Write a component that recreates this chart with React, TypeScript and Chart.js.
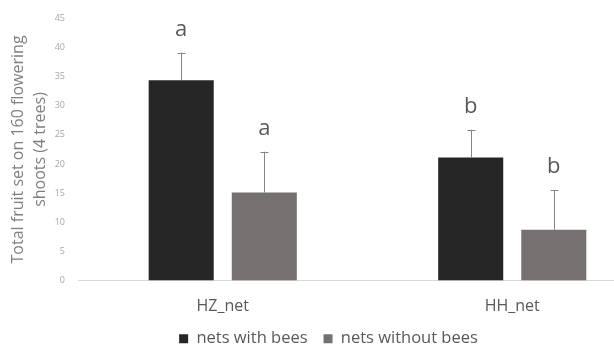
import React, { useEffect, useRef } from "react";
import { Chart, registerables } from "chart.js";

Chart.register(...registerables);

const categories = ["HZ_net", "HH_net"];
const seriesNames = ["nets with bees", "nets without bees"];
const withBees = [34.4, 21.1];
const withBeesErr = [4.7, 4.8];
const withoutBees = [15.1, 8.7];
const withoutBeesErr = [7.0, 6.8];
const withBeesLetters = ["a", "b"];
const withoutBeesLetters = ["a", "b"];
const yTicks = [0, 5, 10, 15, 20, 25, 30, 35, 40, 45];

const FONT = "'Open Sans', 'DejaVu Sans', sans-serif";

// Upper-only error whiskers and significance letters above each bar
const errorBarPlugin = {
  id: "errorBars",
  afterDatasetsDraw(chart: any) {
    const { ctx } = chart;
    const yScale = chart.scales.y;
    const errs = [withBeesErr, withoutBeesErr];
    const letters = [withBeesLetters, withoutBeesLetters];
    ctx.save();
    chart.data.datasets.forEach((ds: any, di: number) => {
      const meta = chart.getDatasetMeta(di);
      meta.data.forEach((bar: any, i: number) => {
        const v = ds.data[i];
        const top = yScale.getPixelForValue(v + errs[di][i]);
        const base = yScale.getPixelForValue(v);
        const x = Math.round(bar.x) + 0.5;
        ctx.strokeStyle = "#858585";
        ctx.lineWidth = 1;
        ctx.beginPath();
        ctx.moveTo(x, base);
        ctx.lineTo(x, top);
        ctx.moveTo(x - 4, Math.round(top) + 0.5);
        ctx.lineTo(x + 4, Math.round(top) + 0.5);
        ctx.stroke();
        ctx.fillStyle = "#595959";
        ctx.font = `22px ${FONT}`;
        ctx.textAlign = "center";
        ctx.textBaseline = "middle";
        ctx.fillText(letters[di][i], bar.x, top - 23);
      });
    });
    ctx.restore();
  },
};

export default function App() {
  const ref = useRef<HTMLCanvasElement>(null);

  useEffect(() => {
    document.body.style.margin = "0";
    const chart = new Chart(ref.current!, {
      type: "bar",
      data: {
        labels: categories,
        datasets: [
          {
            label: seriesNames[0],
            data: withBees,
            backgroundColor: "#262626",
            categoryPercentage: 0.574,
            barPercentage: 0.783,
          },
          {
            label: seriesNames[1],
            data: withoutBees,
            backgroundColor: "#767171",
            categoryPercentage: 0.574,
            barPercentage: 0.783,
          },
        ],
      },
      options: {
        animation: false,
        responsive: false,
        layout: { padding: { top: 11, right: 17, left: 0, bottom: 0 } },
        plugins: {
          legend: {
            position: "bottom",
            labels: {
              boxWidth: 9,
              boxHeight: 9,
              padding: 16,
              color: "#595959",
              font: { family: FONT, size: 16.5 },
            },
          },
          tooltip: { enabled: false },
        },
        scales: {
          x: {
            afterFit(scale: any) {
              scale.height = 34;
            },
            grid: { display: false, drawTicks: false },
            border: { display: true, color: "#d9d9d9", width: 1 },
            ticks: {
              color: "#595959",
              padding: 16,
              font: { family: FONT, size: 16 },
            },
          },
          y: {
            min: 0,
            max: 45,
            afterBuildTicks(scale: any) {
              scale.ticks = yTicks.map((v) => ({ value: v }));
            },
            afterFit(scale: any) {
              scale.width = 78;
            },
            grid: { display: false, drawTicks: false },
            border: { display: false },
            ticks: {
              color: "#a6a6a6",
              padding: 13,
              font: { family: FONT, size: 9 },
            },
            title: {
              display: true,
              text: ["Total fruit set on 160 flowering", "shoots (4 trees)"],
              color: "#7f7f7f",
              font: { family: FONT, size: 16, lineHeight: 1.4 },
              padding: { top: 7, bottom: 0 },
            },
          },
        },
      },
      plugins: [errorBarPlugin],
    });
    return () => chart.destroy();
  }, []);

  return (
    <div style={{ width: 614, height: 349, overflow: "hidden", background: "#fff" }}>
      <canvas ref={ref} width={674} height={357} style={{ width: 674, height: 357, display: "block" }} />
    </div>
  );
}
